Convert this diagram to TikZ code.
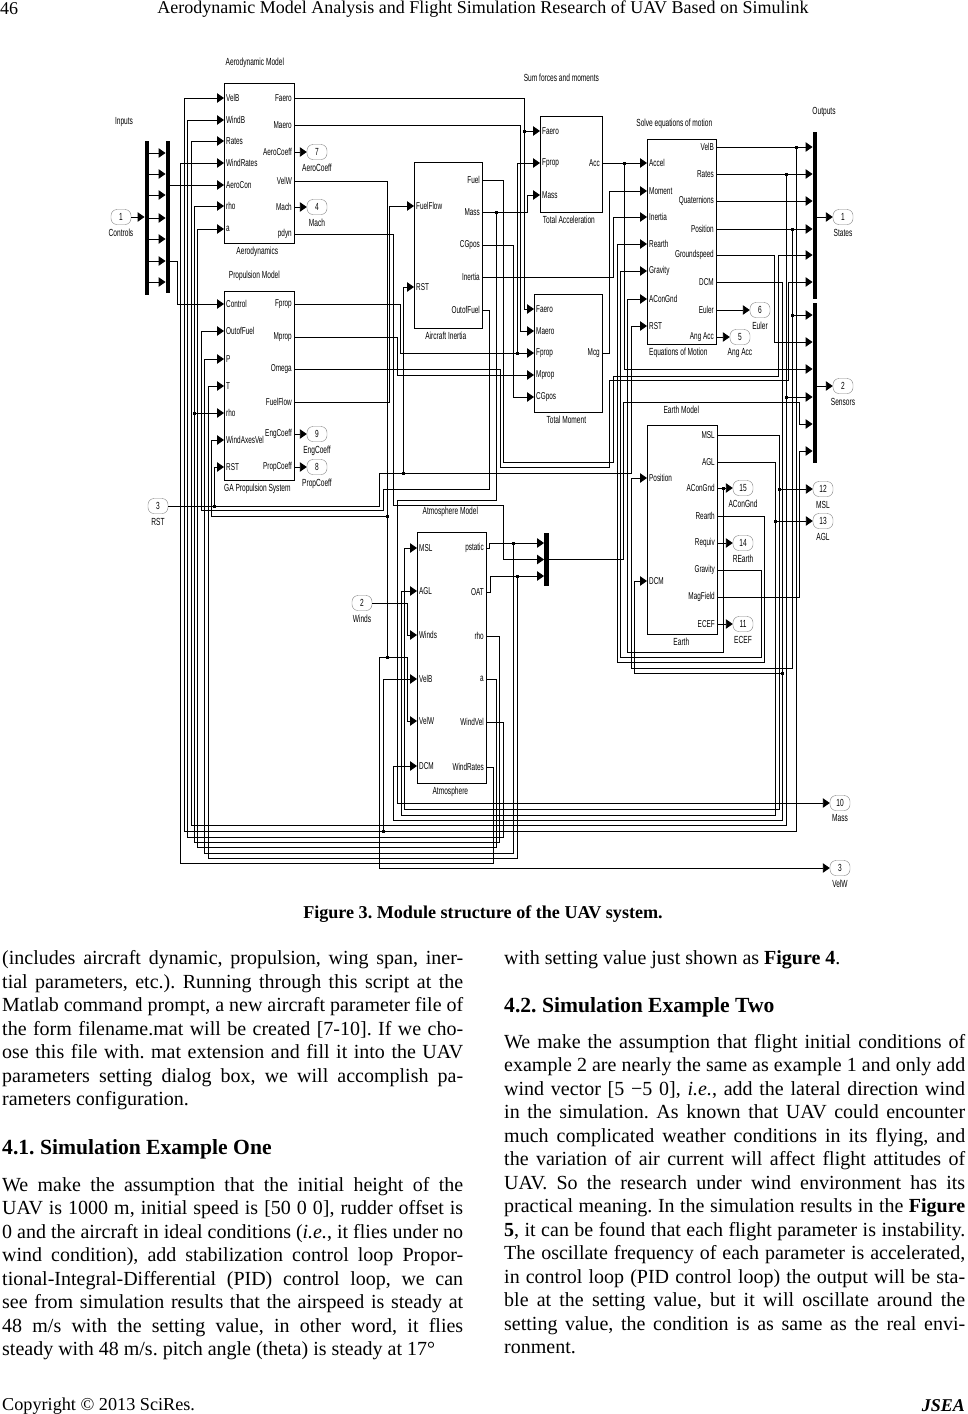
\documentclass[tikz,border=0pt]{standalone}
\usepackage{fontspec}
\setmainfont{Liberation Serif}
\newfontfamily\simfont[FakeStretch=.64]{Liberation Sans}
\usetikzlibrary{arrows.meta,positioning}
\tolerance=9999
\frenchspacing
\begin{document}
\begin{tikzpicture}[
  x=1pt, y=-1pt, >={Triangle[length=7pt,width=9.5pt]}, node distance=2pt,
  blk/.style={draw, line width=.7pt, anchor=north west, inner sep=0pt},
  inp/.style={anchor=west, font=\simfont\fontsize{10}{11}\selectfont, inner xsep=2pt, inner ysep=0pt},
  outp/.style={anchor=east, font=\simfont\fontsize{10}{11}\selectfont, inner xsep=2pt, inner ysep=0pt},
  blkcap/.style={font=\simfont\fontsize{10.3}{11}\selectfont, inner sep=1pt},
  sgncap/.style={blkcap, yshift=-3pt},
  sgn/.style={draw=black!50, line width=.4pt, rounded corners=6pt, minimum width=20pt, minimum height=15pt,
              inner sep=0pt, font=\simfont\fontsize{10.3}{11}\selectfont},
  bar/.style={fill=black, minimum width=4.5pt, inner sep=0pt},
  jdot/.style={fill=black, minimum size=3pt, inner sep=0pt},
  wire/.style={->, line width=.9pt},
  net/.style={line width=.9pt},
  para/.style={anchor=north west, inner sep=0pt, text width=461pt, align=justify, font=\fontsize{20}{23.5}\selectfont},
  head/.style={anchor=west, inner sep=0pt, font=\bfseries\fontsize{21.6}{24}\selectfont}
]
\useasboundingbox (0,0) rectangle (968,1414);

% page text
\node[anchor=west, inner sep=0pt, font=\fontsize{18}{20}\selectfont] (pagenum) at (0,9) {46};
\node[inner sep=0pt, font=\fontsize{18}{20}\selectfont] (runhead) at (483,9) {Aerodynamic Model Analysis and Flight Simulation Research of UAV Based on Simulink};
\node[inner sep=0pt, font=\bfseries\fontsize{18.1}{20}\selectfont] (figcap) at (483,914) {Figure 3. Module structure of the UAV system.};
\node[para] (leftA) at (2,950.5) {(includes aircraft dynamic, propulsion, wing span, iner-\linebreak
tial parameters, etc.). Running through this script at the\linebreak
Matlab command prompt, a new aircraft parameter file of\linebreak
the form filename.mat will be created [7-10]. If we cho-\linebreak
ose this file with. mat extension and fill it into the UAV\linebreak
parameters setting dialog box, we will accomplish pa-\linebreak
rameters configuration.};
\node[head] (headA) at (2,1149) {4.1. Simulation Example One};
\node[para] (leftB) at (2,1177) {We make the assumption that the initial height of the\linebreak
UAV is 1000 m, initial speed is [50 0 0], rudder offset is\linebreak
0 and the aircraft in ideal conditions (\emph{i.e.}, it flies under no\linebreak
wind condition), add stabilization control loop Propor-\linebreak
tional-Integral-Differential (PID) control loop, we can\linebreak
see from simulation results that the airspeed is steady at\linebreak
48 m/s with the setting value, in other word, it flies\linebreak
steady with 48 m/s. pitch angle (theta) is steady at 17°};
\node[para] (rightA) at (504,950.5) {with setting value just shown as \textbf{Figure 4}.};
\node[head] (headB) at (504,1007) {4.2. Simulation Example Two};
\node[para] (rightB) at (504,1034) {We make the assumption that flight initial conditions of\linebreak
example 2 are nearly the same as example 1 and only add\linebreak
wind vector [5 −5 0], \emph{i.e.}, add the lateral direction wind\linebreak
in the simulation. As known that UAV could encounter\linebreak
much complicated weather conditions in its flying, and\linebreak
the variation of air current will affect flight attitudes of\linebreak
UAV. So the research under wind environment has its\linebreak
practical meaning. In the simulation results in the \textbf{Figure}\linebreak
\textbf{5}, it can be found that each flight parameter is instability.\linebreak
The oscillate frequency of each parameter is accelerated,\linebreak
in control loop (PID control loop) the output will be sta-\linebreak
ble at the setting value, but it will oscillate around the\linebreak
setting value, the condition is as same as the real envi-\linebreak
ronment.};
\node[anchor=west, inner sep=0pt, font=\fontsize{18.2}{20}\selectfont] (copyr) at (2,1406) {Copyright © 2013 SciRes.};
\node[anchor=east, inner sep=0pt, font=\bfseries\itshape\fontsize{18}{20}\selectfont] (jsea) at (965,1406) {JSEA};

% blocks
\node[blk, minimum width=70pt, minimum height=160pt] (aero) at (224,83) {};
\node[blk, minimum width=70pt, minimum height=189pt] (prop) at (224,291) {};
\node[blk, minimum width=68pt, minimum height=166pt] (inert) at (414,162) {};
\node[blk, minimum width=62pt, minimum height=96pt] (acc) at (540,116) {};
\node[blk, minimum width=68pt, minimum height=118pt] (mom) at (534,294) {};
\node[blk, minimum width=69pt, minimum height=205pt] (eom) at (647,139) {};
\node[blk, minimum width=70pt, minimum height=209pt] (earth) at (647,425) {};
\node[blk, minimum width=69pt, minimum height=251pt] (atm) at (417,532) {};

% block captions
\node[blkcap, above=14pt of aero, xshift=-4.5pt] (aeroTop) {Aerodynamic Model};
\node[blkcap, below=of aero, xshift=-2pt] (aeroCap) {Aerodynamics};
\node[blkcap, above=9pt of prop, xshift=-5pt] (propTop) {Propulsion Model};
\node[blkcap, below=of prop, xshift=-2pt] (propCap) {GA Propulsion System};
\node[blkcap, below=of inert, xshift=-2.5pt] (inertCap) {Aircraft Inertia};
\node[blkcap, above=33pt of acc, xshift=-10pt] (accTop) {Sum forces and moments};
\node[blkcap, below=of acc, xshift=-2.5pt] (accCap) {Total Acceleration};
\node[blkcap, below=of mom, xshift=-2pt] (momCap) {Total Moment};
\node[blkcap, above=9pt of eom, xshift=-7.5pt] (eomTop) {Solve equations of motion};
\node[blkcap, below=of eom, xshift=-3.5pt] (eomCap) {Equations of Motion};
\node[blkcap, above=10pt of earth, xshift=-1pt] (earthTop) {Earth Model};
\node[blkcap, below=of earth, xshift=-1pt] (earthCap) {Earth};
\node[blkcap, above=14pt of atm, xshift=-1.5pt] (atmTop) {Atmosphere Model};
\node[blkcap, below=of atm, xshift=-1.5pt] (atmCap) {Atmosphere};
\node[blkcap] (inputs) at (124,122) {Inputs};
\node[blkcap] (outputs) at (824,112) {Outputs};

% block ports
\node[inp] (aVelB) at (224,98) {VelB};
\node[inp] (aWindB) at (224,120) {WindB};
\node[inp] (aRates) at (224,141) {Rates};
\node[inp] (aWindRates) at (224,163) {WindRates};
\node[inp] (aAeroCon) at (224,185) {AeroCon};
\node[inp] (aRho) at (224,206) {rho};
\node[inp] (aA) at (224,229) {a};
\node[outp] (aFaero) at (294,98) {Faero};
\node[outp] (aMaero) at (294,125) {Maero};
\node[outp] (aCoeff) at (294,152) {AeroCoeff};
\node[outp] (aVelW) at (294,181) {VelW};
\node[outp] (aMach) at (294,207) {Mach};
\node[outp] (aPdyn) at (294,234) {pdyn};

\node[inp] (pControl) at (224,304) {Control};
\node[inp] (pOut) at (224,331) {OutofFuel};
\node[inp] (pP) at (224,359) {P};
\node[inp] (pT) at (224,386) {T};
\node[inp] (pRho) at (224,413) {rho};
\node[inp] (pWind) at (224,440) {WindAxesVel};
\node[inp] (pRST) at (224,467) {RST};
\node[outp] (pFprop) at (294,304) {Fprop};
\node[outp] (pMprop) at (294,337) {Mprop};
\node[outp] (pOmega) at (294,369) {Omega};
\node[outp] (pFlow) at (294,402) {FuelFlow};
\node[outp] (pEng) at (294,434) {EngCoeff};
\node[outp] (pCoeff) at (294,467) {PropCoeff};

\node[inp] (iFlow) at (414,206) {FuelFlow};
\node[inp] (iRST) at (414,287) {RST};
\node[outp] (iFuel) at (482,180) {Fuel};
\node[outp] (iMass) at (482,212) {Mass};
\node[outp] (iCG) at (482,245) {CGpos};
\node[outp] (iInertia) at (482,277) {Inertia};
\node[outp] (iOut) at (482,310) {OutofFuel};

\node[inp] (tFaero) at (540,131) {Faero};
\node[inp] (tFprop) at (540,163) {Fprop};
\node[inp] (tMass) at (540,195) {Mass};
\node[outp] (tAcc) at (602,163) {Acc};

\node[inp] (mFaero) at (534,309) {Faero};
\node[inp] (mMaero) at (534,331) {Maero};
\node[inp] (mFprop) at (534,353) {Fprop};
\node[inp] (mMprop) at (534,375) {Mprop};
\node[inp] (mCG) at (534,397) {CGpos};
\node[outp] (mMcg) at (602,353) {Mcg};

\node[inp] (eAccel) at (647,163) {Accel};
\node[inp] (eMoment) at (647,191) {Moment};
\node[inp] (eInertia) at (647,217) {Inertia};
\node[inp] (eRearth) at (647,244) {Rearth};
\node[inp] (eGravity) at (647,271) {Gravity};
\node[inp] (eACon) at (647,299) {AConGnd};
\node[inp] (eRST) at (647,326) {RST};
\node[outp] (eVelB) at (716,147) {VelB};
\node[outp] (eRates) at (716,174) {Rates};
\node[outp] (eQuat) at (716,201) {Quaternions};
\node[outp] (ePos) at (716,229) {Position};
\node[outp] (eGround) at (716,255) {Groundspeed};
\node[outp] (eDCM) at (716,282) {DCM};
\node[outp] (eEuler) at (716,310) {Euler};
\node[outp] (eAng) at (716,337) {Ang Acc};

\node[inp] (ePosIn) at (647,478) {Position};
\node[inp] (eDCMIn) at (647,581) {DCM};
\node[outp] (gMSL) at (717,435) {MSL};
\node[outp] (gAGL) at (717,462) {AGL};
\node[outp] (gACon) at (717,488) {AConGnd};
\node[outp] (gRearth) at (717,516) {Rearth};
\node[outp] (gRequiv) at (717,543) {Requiv};
\node[outp] (gGravity) at (717,570) {Gravity};
\node[outp] (gMag) at (717,597) {MagField};
\node[outp] (gECEF) at (717,624) {ECEF};

\node[inp] (sMSL) at (417,548) {MSL};
\node[inp] (sAGL) at (417,591) {AGL};
\node[inp] (sWinds) at (417,635) {Winds};
\node[inp] (sVelB) at (417,679) {VelB};
\node[inp] (sVelW) at (417,721) {VelW};
\node[inp] (sDCM) at (417,766) {DCM};
\node[outp] (sStatic) at (486,548) {pstatic};
\node[outp] (sOAT) at (486,592) {OAT};
\node[outp] (sRho) at (486,636) {rho};
\node[outp] (sA) at (486,679) {a};
\node[outp] (sWindVel) at (486,722) {WindVel};
\node[outp] (sWindRates) at (486,767) {WindRates};

% mux bars
\node[bar, minimum height=154pt] (muxA) at (147,218) {};
\node[bar, minimum height=152pt] (muxB) at (168,217) {};
\node[bar, minimum height=167pt] (states) at (815,215.5) {};
\node[bar, minimum height=160pt] (sensors) at (815,383) {};
\node[bar, minimum height=53pt] (muxC) at (546.5,559.5) {};

% signal ports
\node[sgn, label={[sgncap]below:Controls}] (inCtrl) at (121,217) {1};
\node[sgn, label={[sgncap]below:RST}] (inRST) at (158,506) {3};
\node[sgn, label={[sgncap]below:Winds}] (inWinds) at (362,603) {2};
\node[sgn, label={[sgncap]below:AeroCoeff}] (outCoeff) at (317,152) {7};
\node[sgn, label={[sgncap]below:Mach}] (outMach) at (317,207) {4};
\node[sgn, label={[sgncap]below:EngCoeff}] (outEng) at (317,434) {9};
\node[sgn, label={[sgncap]below:PropCoeff}] (outProp) at (317,467) {8};
\node[sgn, label={[sgncap]below:Euler}] (outEuler) at (760,310) {6};
\node[sgn, label={[sgncap]below:Ang Acc}] (outAng) at (740,337) {5};
\node[sgn, label={[sgncap]below:States}] (outStates) at (843,217) {1};
\node[sgn, label={[sgncap]below:Sensors}] (outSensors) at (843,386) {2};
\node[sgn, label={[sgncap]below:AConGnd}] (outACon) at (743,488) {15};
\node[sgn, label={[sgncap]below:REarth}] (outREarth) at (743,543) {14};
\node[sgn, label={[sgncap]below:ECEF}] (outECEF) at (743,624) {11};
\node[sgn, label={[sgncap]below:MSL}] (outMSL) at (823,489) {12};
\node[sgn, label={[sgncap]below:AGL}] (outAGL) at (823,521) {13};
\node[sgn, label={[sgncap]below:Mass}] (outMass) at (840,803) {10};
\node[sgn, label={[sgncap]below:VelW}] (outVelW) at (840,868) {3};

% branch points
\node[jdot] (jFaero) at (524,131) {};
\node[jdot] (jFprop) at (517,353) {};
\node[jdot] (jMass) at (496,212) {};
\node[jdot] (jAcc) at (624,163) {};
\node[jdot] (jVelW) at (387,516) {};
\node[jdot] (jVelWb) at (387,657) {};
\node[jdot] (jRST) at (403,473) {};
\node[jdot] (jRSTb) at (214,506) {};
\node[jdot] (jRho) at (194,413) {};
\node[jdot] (jVelB) at (796,147) {};
\node[jdot] (jVelBb) at (383,831) {};
\node[jdot] (jRates) at (786,174) {};
\node[jdot] (jRatesb) at (786,397) {};
\node[jdot] (jPos) at (792,229) {};
\node[jdot] (jPosb) at (792,315) {};
\node[jdot] (jDCM) at (782,673) {};
\node[jdot] (jMSL) at (779,489) {};
\node[jdot] (jAGL) at (775,521) {};
\node[jdot] (jACon) at (723,488) {};
\node[jdot] (jStatic) at (513,543) {};
\node[jdot] (jOAT) at (517,576) {};

% inputs
\draw[wire] (inCtrl) -- (muxA.west |- inCtrl);
\foreach \y in {153,174,195,218,239,261,282}
  \draw[wire] (muxA.east |- 0,\y) -- (muxB.west |- 0,\y);
\draw[wire] (muxB.east |- aAeroCon) -- (aAeroCon.west);
\draw[wire] (muxB.east |- 0,261) -- (177,261) |- (pControl.west);

% aerodynamics
\draw[wire] (aFaero.east) -- (524,98) |- (mFaero.west);
\draw[wire] (jFaero.center) -- (tFaero.west);
\draw[wire] (aMaero.east) -- (520,125) |- (mMaero.west);
\draw[wire] (aCoeff.east) -- (outCoeff);
\draw[wire] (aMach.east) -- (outMach);
\draw[net] (aVelW.east) -| (jVelWb.center);
\draw[wire] (jVelW.center) -- (211,516) |- (pWind.west);
\draw[wire] (jVelWb.center) -- (407,657) |- (sVelW.west);
\draw[wire] (jVelWb.center) -- (379,657) |- (outVelW);
\draw[wire] (aPdyn.east) -- (393,234) -- (393,505) -- (503,505) |- (muxC.west);

% propulsion
\draw[wire] (pFprop.east) -- (400,304) |- (mFprop.west);
\draw[wire] (jFprop.center) |- (tFprop.west);
\draw[wire] (pMprop.east) -- (397,337) |- (mMprop.west);
\draw[wire] (pOmega.east) -- (500,369) -- (500,467) -- (609,467) -- (609,380) -- (788,380) |- (states.west |- eDCM);
\draw[wire] (pFlow.east) -- (389,402) |- (iFlow.west);
\draw[wire] (pEng.east) -- (outEng);
\draw[wire] (pCoeff.east) -- (outProp);

% reset
\draw[net] (inRST) -- (379,506) |- (jRST.center);
\draw[wire] (jRST.center) -- (631,473) |- (eRST.west);
\draw[wire] (jRST.center) |- (iRST.west);
\draw[wire] (jRSTb.center) |- (pRST.west);

% aircraft inertia
\draw[wire] (iFuel.east) -- (503,180) -- (503,462) -- (613,462) -- (613,376) -- (778,376) |- (states.west |- 0,255);
\draw[wire] (iMass.east) -- (527,212) |- (tMass.west);
\draw[wire] (jMass.center) -- (496,500) -- (397,500) |- (outMass);
\draw[wire] (iCG.east) -- (513,245) |- (mCG.west);
\draw[wire] (iInertia.east) -- (613,277) |- (eInertia.west);
\draw[wire] (iOut.east) -- (489,310) -- (489,489) -- (383,489) -- (383,510) -- (201,510) |- (pOut.west);

% total acceleration and moment
\draw[wire] (tAcc.east) -- (eAccel.west);
\draw[wire] (jAcc.center) |- (sensors.west |- 0,369);
\draw[wire] (mMcg.east) -- (609,353) |- (eMoment.west);

% equations of motion
\draw[wire] (eVelB.east) -- (states.west |- eVelB);
\draw[wire] (jVelB.center) -- (796,831) -- (184,831) |- (aVelB.west);
\draw[wire] (jVelBb.center) -- (383,679) -- (sVelB.west);
\draw[wire] (eRates.east) -- (states.west |- eRates);
\draw[wire] (jRates.center) -- (786,825) -- (191,825) |- (aRates.west);
\draw[wire] (jRatesb.center) -- (sensors.west |- jRatesb);
\draw[wire] (eQuat.east) -- (states.west |- eQuat);
\draw[wire] (ePos.east) -- (states.west |- ePos);
\draw[wire] (jPos.center) -- (792,668) -- (631,668) |- (ePosIn.west);
\draw[wire] (jPosb.center) -- (sensors.west |- jPosb);
\draw[wire] (eGround.east) -- (774,255) |- (sensors.west |- 0,342);
\draw[wire] (eDCM.east) -- (782,282) -- (782,820) -- (393,820) |- (sDCM.west);
\draw[wire] (jDCM.center) -- (634,673) |- (eDCMIn.west);
\draw[wire] (eEuler.east) -- (outEuler);
\draw[wire] (eAng.east) -- (outAng);

% earth
\draw[wire] (gMSL.east) -- (779,435) -- (779,809) -- (404,809) |- (sMSL.west);
\draw[wire] (jMSL.center) -- (outMSL);
\draw[wire] (gAGL.east) -- (775,462) -- (775,815) -- (401,815) |- (sAGL.west);
\draw[wire] (jAGL.center) -- (outAGL);
\draw[wire] (gACon.east) -- (outACon);
\draw[wire] (jACon.center) -- (723,652) -- (627,652) |- (eACon.west);
\draw[wire] (gRearth.east) -- (764,516) -- (764,662) -- (617,662) |- (eRearth.west);
\draw[wire] (gRequiv.east) -- (outREarth);
\draw[wire] (gGravity.east) -- (761,570) -- (761,657) -- (620,657) |- (eGravity.west);
\draw[wire] (gMag.east) -- (799,597) |- (sensors.west |- 0,451);
\draw[wire] (gECEF.east) -- (outECEF);

% atmosphere
\draw[wire] (inWinds) -- (407,603) |- (sWinds.west);
\draw[wire] (sStatic.east) -- (489,548) |- (muxC.west |- jStatic);
\draw[wire] (jStatic.center) -- (513,853) -- (204,853) |- (pP.west);
\draw[wire] (sOAT.east) -- (490,592) |- (muxC.west |- jOAT);
\draw[wire] (jOAT.center) -- (517,858) -- (208,858) |- (pT.west);
\draw[wire] (sRho.east) -- (499,636) -- (499,842) -- (194,842) |- (aRho.west);
\draw[wire] (jRho.center) -- (pRho.west);
\draw[wire] (sA.east) -- (496,679) -- (496,847) -- (197,847) |- (aA.west);
\draw[wire] (sWindVel.east) -- (503,722) -- (503,837) -- (187,837) |- (aWindB.west);
\draw[wire] (sWindRates.east) -- (493,767) -- (493,863) -- (180,863) |- (aWindRates.west);
\draw[wire] (muxC.east) -- (623,559.5) -- (623,402) -- (799,402) |- (sensors.west |- 0,424);

% outputs
\draw[wire] (states.east |- outStates) -- (outStates);
\draw[wire] (sensors.east |- outSensors) -- (outSensors);
\end{tikzpicture}
\end{document}
